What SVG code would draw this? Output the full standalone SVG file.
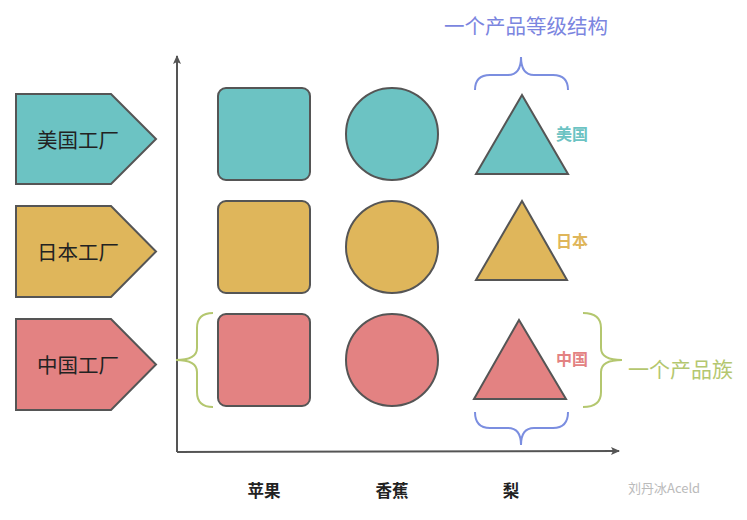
<svg xmlns="http://www.w3.org/2000/svg" width="747" height="520" viewBox="0 0 747 520">
<defs>
<marker id="arr" markerWidth="10" markerHeight="10" refX="8" refY="5" orient="auto" markerUnits="userSpaceOnUse">
<path d="M0,1 L9,5 L0,9 L2,5 Z" fill="#555"/>
</marker>
<style>
.sh{stroke:#555;stroke-width:2}
.teal{fill:#6cc3c3}
.yel{fill:#dfb65b}
.red{fill:#e38282}
.fac{font-family:"Noto Sans CJK SC","Noto Sans",sans-serif;font-size:20.5px;fill:#222;text-anchor:middle;dominant-baseline:central}
.lab{font-family:"Noto Sans CJK SC",sans-serif;font-size:16px;font-weight:bold;dominant-baseline:central}
.axl{font-family:"Noto Sans CJK SC",sans-serif;font-size:16.5px;font-weight:bold;fill:#222;text-anchor:middle;dominant-baseline:central}
.brb{fill:none;stroke:#7b8ee0;stroke-width:2}
.brg{fill:none;stroke:#b4c76f;stroke-width:2}
</style>
</defs>
<rect width="747" height="520" fill="#fff"/>
<g id="connectors">
<line x1="177" y1="452" x2="177" y2="56" stroke="#555" stroke-width="2" marker-end="url(#arr)"/>
<line x1="177" y1="452" x2="619" y2="451" stroke="#555" stroke-width="2" marker-end="url(#arr)"/>
</g>
<g id="factory-us"><path class="sh teal" d="M16,94 L111,94 L156,139 L111,184 L16,184 Z"/><text class="fac" x="78" y="139">美国工厂</text></g>
<g id="factory-jp"><path class="sh yel" d="M16,206 L111,206 L156,251.5 L111,297 L16,297 Z"/><text class="fac" x="78" y="251">日本工厂</text></g>
<g id="factory-cn"><path class="sh red" d="M16,319 L111,319 L156,364.5 L111,410 L16,410 Z"/><text class="fac" x="78" y="364">中国工厂</text></g>
<g id="apple-us"><rect class="sh teal" x="218" y="88" width="92" height="92" rx="8"/></g>
<g id="apple-jp"><rect class="sh yel" x="218" y="201" width="92" height="92" rx="8"/></g>
<g id="apple-cn"><rect class="sh red" x="218" y="314" width="92" height="92" rx="8"/></g>
<g id="banana-us"><circle class="sh teal" cx="392" cy="134" r="46"/></g>
<g id="banana-jp"><circle class="sh yel" cx="392" cy="247" r="46"/></g>
<g id="banana-cn"><circle class="sh red" cx="392" cy="360" r="46"/></g>
<g id="pear-us"><path class="sh teal" d="M522,95 L568,174 L476,174 Z"/><text class="lab" x="556" y="133" fill="#6cc3c3">美国</text></g>
<g id="pear-jp"><path class="sh yel" d="M522,201 L567,280 L476,280 Z"/><text class="lab" x="556" y="240" fill="#dfb65b">日本</text></g>
<g id="pear-cn"><path class="sh red" d="M519,320 L566,399 L474,399 Z"/><text class="lab" x="556" y="358" fill="#e38282">中国</text></g>
<g id="level-brace">
<path class="brb" d="M475,90 Q475,75 490,75 L508,75 Q521,75 521,57 Q521,75 534,75 L553,75 Q568,75 568,90"/>
<text x="526" y="25" font-family="'Noto Sans CJK SC',sans-serif" font-size="20.5" fill="#7b85df" text-anchor="middle" dominant-baseline="central">一个产品等级结构</text>
</g>
<g id="level-brace-bottom">
<path class="brb" d="M475,412 Q475,428 490,428 L508,428 Q521,428 521,445 Q521,428 534,428 L553,428 Q568,428 568,412"/>
</g>
<g id="family-brace-left">
<path class="brg" d="M213,313 Q197,313 197,328 L197,348 Q197,360 176,360 Q197,360 197,372 L197,392 Q197,407 213,407"/>
</g>
<g id="family-brace-right">
<path class="brg" d="M583,313 Q601,313 601,328 L601,348 Q601,360 622,360 Q601,360 601,372 L601,392 Q601,407 583,407"/>
<text x="628" y="368" font-family="'Noto Sans CJK SC',sans-serif" font-size="21" fill="#b4c76f" dominant-baseline="central">一个产品族</text>
</g>
<g id="axis-labels">
<text class="axl" x="264" y="490">苹果</text>
<text class="axl" x="392" y="490">香蕉</text>
<text class="axl" x="511" y="490">梨</text>
</g>
<text x="628" y="487" font-family="'Noto Sans CJK SC',sans-serif" font-size="13" fill="#bbb" dominant-baseline="central">刘丹冰Aceld</text>
</svg>
